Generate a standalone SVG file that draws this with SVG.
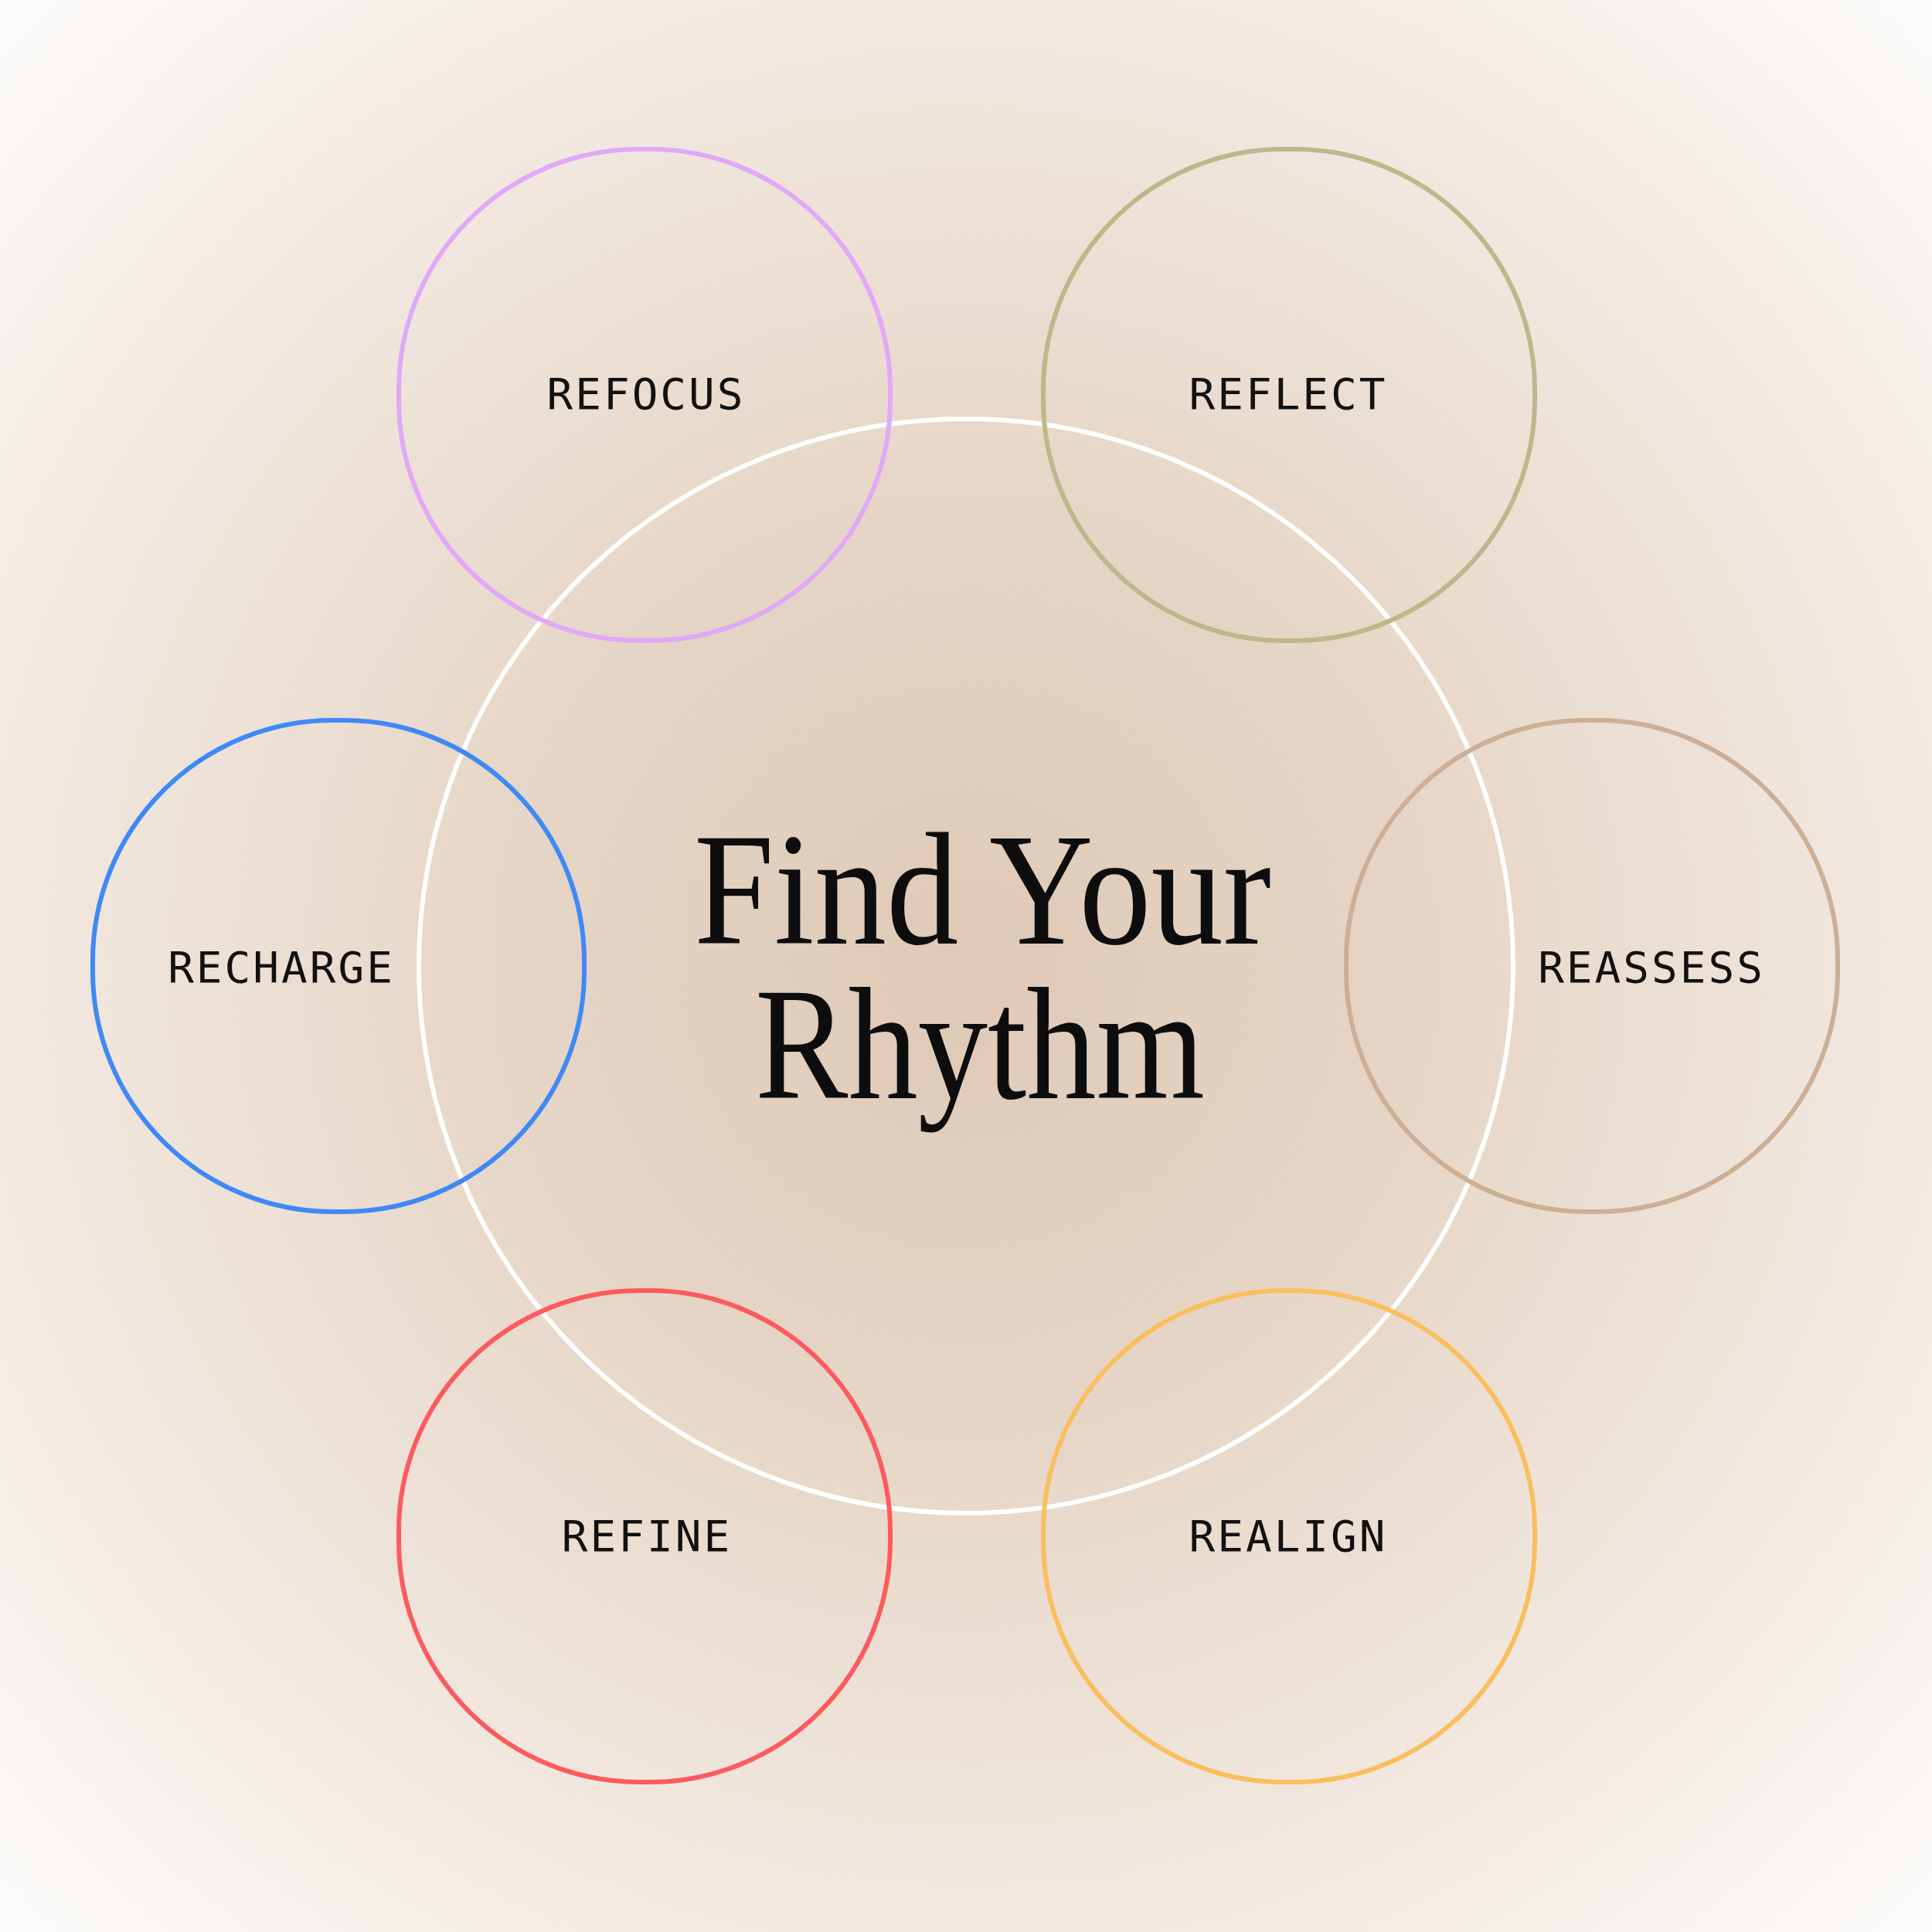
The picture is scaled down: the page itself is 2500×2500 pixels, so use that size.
<svg xmlns="http://www.w3.org/2000/svg" width="2500" height="2500" viewBox="0 0 2500 2500">
  <defs>
    <radialGradient id="bg" cx="1250" cy="1250" r="1768" gradientUnits="userSpaceOnUse">
      <stop offset="0" stop-color="#DFC9B6"/>
      <stop offset="0.35" stop-color="#E6D6C7"/>
      <stop offset="0.7" stop-color="#F2E9E1"/>
      <stop offset="1" stop-color="#FDFCFB"/>
    </radialGradient>
    <style>
      .ring { fill: none; stroke-width: 6; }
      .lbl { font-family: "DejaVu Sans Mono", "Liberation Mono", monospace; font-size: 56px; letter-spacing: 3px; fill: #111111; text-anchor: middle; }
      .title { font-family: "Liberation Serif", "DejaVu Serif", serif; font-size: 207px; fill: #0D0D0D; }
    </style>
  </defs>
  <rect x="0" y="0" width="2500" height="2500" fill="url(#bg)"/>

  <g id="center">
    <circle cx="1250" cy="1250" r="708" fill="none" stroke="#FFFFFF" stroke-width="6"/>
    <text class="title" x="898" y="1221" textLength="747" lengthAdjust="spacingAndGlyphs">Find Your</text>
    <text class="title" x="977" y="1421" textLength="582" lengthAdjust="spacingAndGlyphs">Rhythm</text>
  </g>

  <g id="connectors"></g>

  <g id="refocus">
    <rect class="ring" x="516" y="193" width="636" height="636" rx="311" stroke="#E0A9F7"/>
    <text class="lbl" x="836" y="529">REFOCUS</text>
  </g>
  <g id="reflect">
    <rect class="ring" x="1350" y="193" width="636" height="636" rx="311" stroke="#BDB88B"/>
    <text class="lbl" x="1667" y="529">REFLECT</text>
  </g>
  <g id="recharge">
    <rect class="ring" x="120" y="932" width="636" height="636" rx="311" stroke="#3F89F6"/>
    <text class="lbl" x="364" y="1271">RECHARGE</text>
  </g>
  <g id="reassess">
    <rect class="ring" x="1742" y="932" width="636" height="636" rx="311" stroke="#CCAF95"/>
    <text class="lbl" x="2137" y="1271">REASSESS</text>
  </g>
  <g id="refine">
    <rect class="ring" x="516" y="1670" width="636" height="636" rx="311" stroke="#FD5A5E"/>
    <text class="lbl" x="837" y="2007">REFINE</text>
  </g>
  <g id="realign">
    <rect class="ring" x="1350" y="1670" width="636" height="636" rx="311" stroke="#FBBE5E"/>
    <text class="lbl" x="1667" y="2007">REALIGN</text>
  </g>
</svg>
